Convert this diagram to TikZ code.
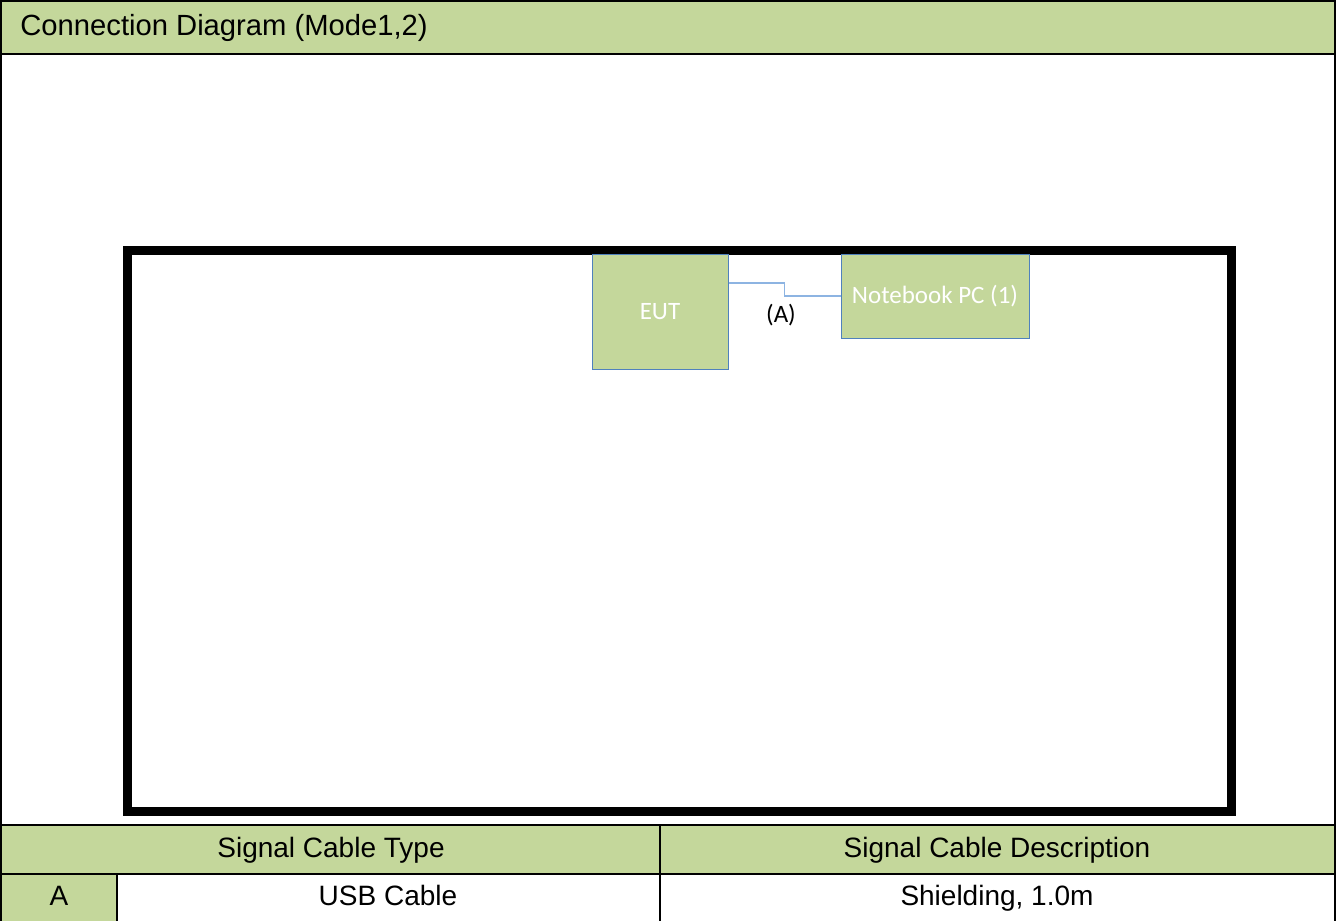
\documentclass[tikz,border=0pt]{standalone}
\usepackage{fontspec}
\setmainfont{Liberation Sans}
\newfontfamily\calibri{Carlito}
\usetikzlibrary{positioning}
\definecolor{hdrgreen}{HTML}{C4D79B}
\definecolor{boxblue}{HTML}{4F81BD}
\definecolor{cableblue}{HTML}{8DB4E2}

\begin{document}
\begin{tikzpicture}[x=0.5pt,y=-0.5pt,
		rule_style/.style={draw=black,line width=1.3pt},
		cell_text/.style={font=\fontsize{14}{16}\selectfont,inner sep=0pt,text height=1.6ex,text depth=0.2ex},
		unit_style/.style={draw=boxblue,line width=0.5pt,fill=hdrgreen,text=white,font=\calibri\fontsize{12.5}{15}\selectfont,inner sep=0pt},
		cable_style/.style={draw=cableblue,line width=0.7pt}]
		
		\useasboundingbox (0,0) rectangle (1341,921);
		
		% green bands
		\fill[hdrgreen] (1,1) rectangle (1335,54);
		\fill[hdrgreen] (1,825) rectangle (1335,874);
		\fill[hdrgreen] (1,874) rectangle (117,921);
		
		% table rules
		\draw[rule_style] (1,921) -- (1,1) -- (1335,1) -- (1335,921);
		\draw[rule_style] (1,54) -- (1335,54);
		\draw[rule_style] (1,825) -- (1335,825);
		\draw[rule_style] (1,874) -- (1335,874);
		\draw[rule_style] (660,825) -- (660,921);
		\draw[rule_style] (117,874) -- (117,921);
		
		% test area
		\draw[draw=black,line width=4.5pt] (127,250) rectangle (1231,811.5);
		
		\node[anchor=west,cell_text,font=\fontsize{14.6}{17}\selectfont] (title) at (20,28) {Connection Diagram (Mode1,2)};
		\node[cell_text] (typehead) at (331,850) {Signal Cable Type};
		\node[cell_text] (deschead) at (997,850) {Signal Cable Description};
		\node[cell_text] (cableid) at (59,898) {A};
		\node[cell_text] (cabletype) at (388,898) {USB Cable};
		\node[cell_text] (cabledesc) at (997,898) {Shielding, 1.0m};
		
		\node[unit_style,minimum width=68pt,minimum height=57.5pt] (eut) at (660,311.5) {EUT};
		\node[unit_style,minimum width=94pt,minimum height=42pt] (nb) at (935,296) {Notebook PC (1)};
		
		\draw[cable_style] ([yshift=14.25pt]eut.east) -- ++(28pt,0) |- (nb.west);
		\node[font=\calibri\fontsize{12.5}{15}\selectfont] (lblA) at (781,315) {(A)};
		
\end{tikzpicture}
\end{document}
